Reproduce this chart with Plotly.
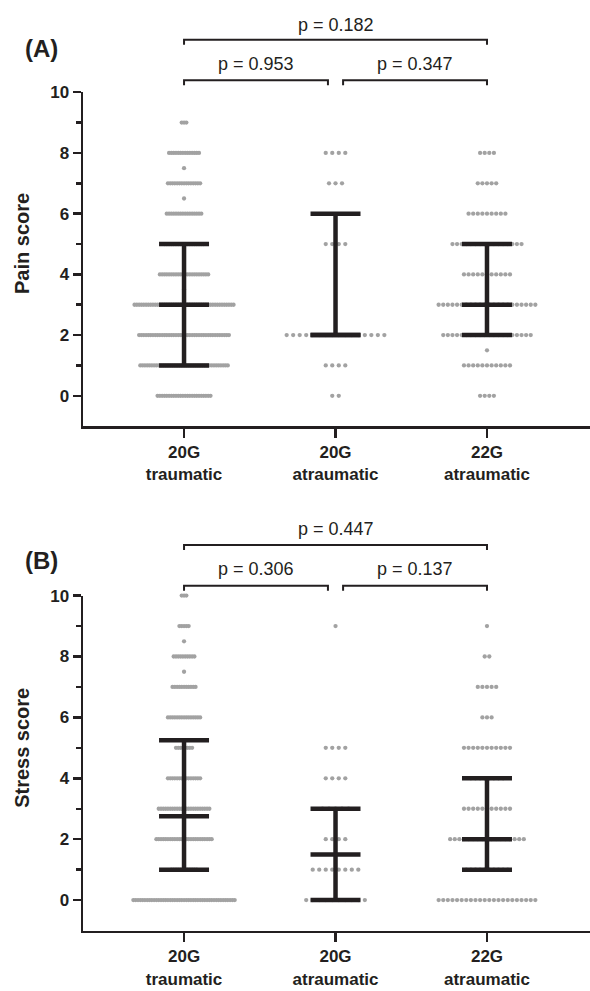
import plotly.graph_objects as go

# ---------------- data ----------------
categories = ["20G<br>traumatic", "20G<br>atraumatic", "22G<br>atraumatic"]

# Pain score (A): score levels and number of patients at each level
pain_levels_g1 = [0, 1, 2, 3, 3.5, 4, 5, 6, 6.5, 7, 7.5, 8, 9]
pain_counts_g1 = [24, 39, 40, 44, 1, 22, 18, 16, 1, 15, 1, 14, 3]
pain_levels_g2 = [0, 1, 2, 5, 7, 8]
pain_counts_g2 = [2, 4, 16, 4, 3, 4]
pain_levels_g3 = [0, 1, 1.5, 2, 3, 4, 5, 6, 7, 8]
pain_counts_g3 = [4, 11, 1, 20, 22, 11, 16, 9, 5, 4]
pain_median = [3, 2, 3]
pain_q1 = [1, 2, 2]
pain_q3 = [5, 6, 5]

# Stress score (B)
stress_levels_g1 = [0, 1, 2, 3, 4, 5, 6, 7, 7.5, 8, 8.5, 9, 10]
stress_counts_g1 = [45, 12, 25, 23, 15, 8, 15, 11, 1, 10, 1, 5, 3]
stress_levels_g2 = [0, 1, 2, 3, 4, 5, 9]
stress_counts_g2 = [10, 8, 4, 5, 4, 4, 1]
stress_levels_g3 = [0, 1, 2, 3, 4, 5, 6, 7, 8, 9]
stress_counts_g3 = [22, 10, 17, 11, 8, 11, 3, 5, 2, 1]
stress_median = [2.75, 1.5, 2]
stress_q1 = [1, 0, 1]
stress_q3 = [5.25, 3, 4]

pain_p = ["p = 0.953", "p = 0.347", "p = 0.182"]
stress_p = ["p = 0.306", "p = 0.137", "p = 0.447"]

y_ticks = [0, 2, 4, 6, 8, 10]
y_minor = [1, 3, 5, 7, 9]

# ---------------- style ----------------
BLACK = "#231f20"
GRAY = "#a2a2a2"
FONT = "Liberation Sans, Arial, sans-serif"
spacing = [0.0152, 0.043, 0.0304]  # horizontal dot spacing per group (x units)
cap_half = 0.165

H = 991.0
def py(px):
    return 1 - px / H

fig = go.Figure()


def add_dots(levels_list, counts_list, xa, ya):
    xs, ys = [], []
    for gi, (levels, counts) in enumerate(zip(levels_list, counts_list)):
        for lv, n in zip(levels, counts):
            for k in range(n):
                xs.append(gi + (k - (n - 1) / 2) * spacing[gi])
                ys.append(lv)
    fig.add_trace(go.Scatter(x=xs, y=ys, mode="markers", xaxis=xa, yaxis=ya,
                             marker=dict(size=4.3, color=GRAY, line=dict(width=0)),
                             cliponaxis=False, hoverinfo="skip", showlegend=False))


def add_bars(med, q1, q3, xa, ya):
    xs, ys = [], []
    for gi in range(3):
        xs += [gi, gi, None]
        ys += [q1[gi], q3[gi], None]
        for v in (q1[gi], med[gi], q3[gi]):
            xs += [gi - cap_half, gi + cap_half, None]
            ys += [v, v, None]
    fig.add_trace(go.Scatter(x=xs, y=ys, mode="lines", xaxis=xa, yaxis=ya,
                             line=dict(color=BLACK, width=4.5),
                             hoverinfo="skip", showlegend=False))


add_dots([pain_levels_g1, pain_levels_g2, pain_levels_g3],
         [pain_counts_g1, pain_counts_g2, pain_counts_g3], "x", "y")
add_bars(pain_median, pain_q1, pain_q3, "x", "y")
add_dots([stress_levels_g1, stress_levels_g2, stress_levels_g3],
         [stress_counts_g1, stress_counts_g2, stress_counts_g3], "x2", "y2")
add_bars(stress_median, stress_q1, stress_q3, "x2", "y2")

xr = [-0.667, 2.68]
xcommon = dict(range=xr, tickvals=[0, 1, 2], ticktext=categories,
               showline=True, linecolor=BLACK, linewidth=2.5,
               ticks="outside", ticklen=9, tickwidth=2.5, tickcolor=BLACK,
               showgrid=False, zeroline=False,
               tickfont=dict(family=FONT, size=17, color=BLACK, weight="bold"))
ycommon = dict(range=[-1, 10], tickvals=y_ticks,
               showline=True, linecolor=BLACK, linewidth=2.5,
               ticks="outside", ticklen=8, tickwidth=2.5, tickcolor=BLACK,
               showgrid=False, zeroline=False,
               minor=dict(tickvals=y_minor, ticks="outside", ticklen=5,
                          tickwidth=2.5, tickcolor=BLACK),
               tickfont=dict(family=FONT, size=17, color=BLACK, weight="bold"))

fig.update_layout(
    width=590, height=991,
    margin=dict(l=83, r=0, t=0, b=0),
    paper_bgcolor="white", plot_bgcolor="white",
    xaxis=dict(domain=[0, 1], anchor="y", **xcommon),
    yaxis=dict(domain=[py(421), py(84)], anchor="x", **ycommon),
    xaxis2=dict(domain=[0, 1], anchor="y2", **xcommon),
    yaxis2=dict(domain=[py(930), py(592)], anchor="x2", **ycommon),
)

shapes = []
annotations = []


def bracket(xref, x0, x1, ybar_px, label, ytext_px):
    shapes.append(dict(type="path", xref=xref, yref="paper",
                       path=f"M {x0},{py(ybar_px + 5)} L {x0},{py(ybar_px)} "
                            f"L {x1},{py(ybar_px)} L {x1},{py(ybar_px + 5)}",
                       line=dict(color=BLACK, width=2)))
    annotations.append(dict(xref=xref, yref="paper", x=(x0 + x1) / 2, y=py(ytext_px),
                            text=label, showarrow=False, xanchor="center", yanchor="middle",
                            font=dict(family=FONT, size=18, color=BLACK)))


bracket("x", 0, 0.95, 72, pain_p[0], 55)
bracket("x", 1.05, 2, 72, pain_p[1], 55)
bracket("x", 0, 2, 31, pain_p[2], 16)
bracket("x2", 0, 0.95, 582, stress_p[0], 565)
bracket("x2", 1.05, 2, 582, stress_p[1], 565)
bracket("x2", 0, 2, 541, stress_p[2], 525)

for lab, ypx in (("(A)", 40), ("(B)", 557)):
    annotations.append(dict(xref="paper", yref="paper", x=0, xshift=-42, y=py(ypx),
                            text=lab, showarrow=False, xanchor="center", yanchor="middle",
                            font=dict(family=FONT, size=24, color=BLACK, weight="bold")))

for lab, yr in (("Pain score", "y"), ("Stress score", "y2")):
    annotations.append(dict(xref="paper", yref=yr, x=0, xshift=-61, y=5,
                            text=lab, textangle=-90, showarrow=False,
                            xanchor="center", yanchor="middle",
                            font=dict(family=FONT, size=20, color=BLACK, weight="bold")))

fig.update_layout(shapes=shapes, annotations=annotations)
fig.write_html("out.html",
               config={"displayModeBar": False, "staticPlot": True},
               post_script="document.body.style.margin='0';document.body.style.padding='0';"
                           "document.body.style.overflow='hidden';")
